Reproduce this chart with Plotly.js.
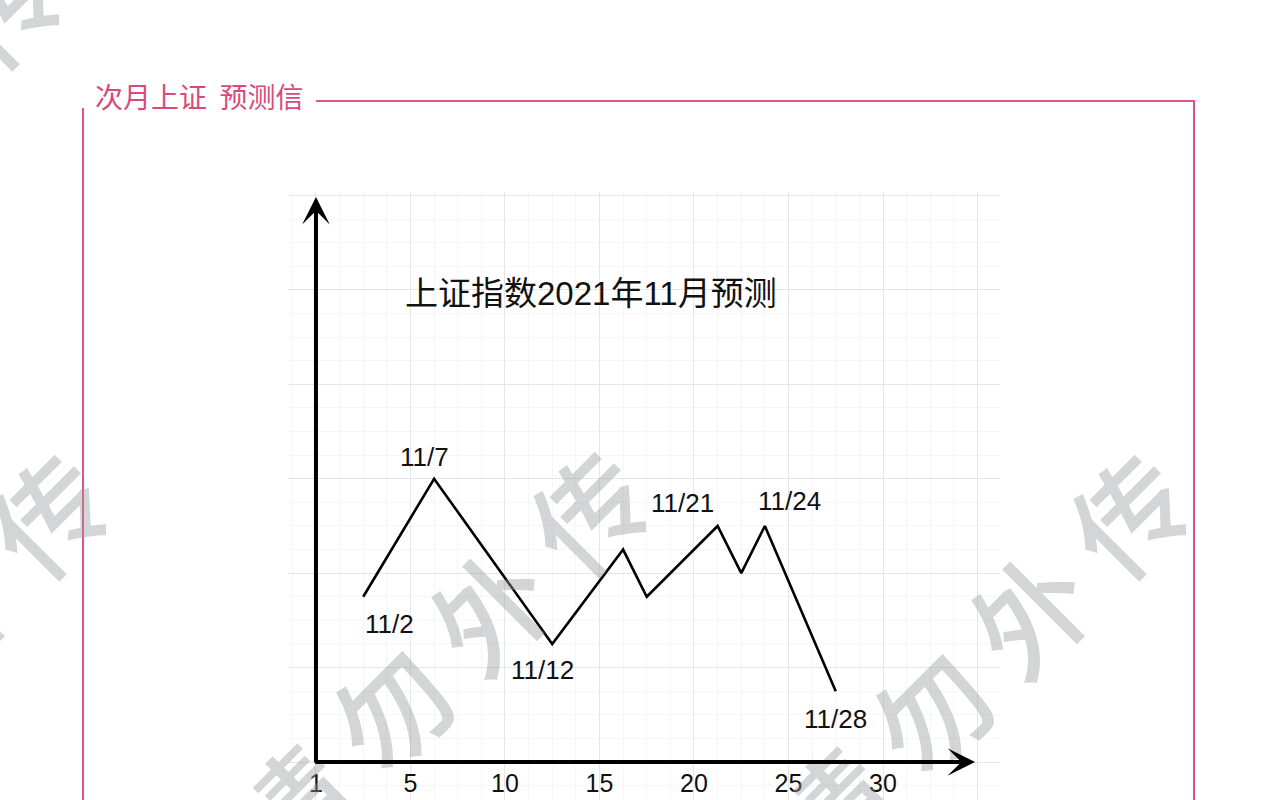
<!DOCTYPE html>
<html>
<head>
<meta charset="utf-8">
<script src="https://cdn.plot.ly/plotly-3.0.1.min.js"></script>
<style>html,body{margin:0;padding:0;background:#fff;}#chart{width:1281px;height:800px;}</style>
</head>
<body>
<div id="chart"></div>
<script>
// ---- data ----
const days = [2.5, 6.25, 12.5, 16.25, 17.5, 21.25, 22.5, 23.75, 27.5];
const level = [7, 12, 5, 9, 7, 10, 8, 10, 3];
const pointLabels = ["11/2", "11/7", "11/12", "", "", "11/21", "", "11/24", "11/28"];
const tickVals = [0, 5, 10, 15, 20, 25, 30, 35];
const tickText = ["1", "5", "10", "15", "20", "25", "30", ""];
const chartTitle = "上证指数2021年11月预测";
const boxTitle = "次月上证\u00a0\u00a0预测信";
const watermark = "请 勿 外 传";

// ---- styling / placement ----
const W = 1281, H = 800;
const px = v => v / W, py = v => 1 - v / H;
const pink = '#e0508a';
const labelFont = {family: 'Liberation Sans, Arial, sans-serif', size: 26, color: '#111'};
const labelShift = {
  "11/2": [26, -27], "11/7": [-10, 22], "11/12": [-10, -26],
  "11/21": [-35, 23], "11/24": [25, 25], "11/28": [0, -28]
};

const trace = {
  x: days, y: level, type: 'scatter', mode: 'lines',
  line: {color: '#000', width: 2.6}, hoverinfo: 'skip'
};

const annotations = [];
// watermark
[[437, 657], [977, 660], [-103, 660], [-150, 150]].forEach(c => {
  annotations.push({
    xref: 'paper', yref: 'paper', x: px(c[0]), y: py(c[1]),
    xanchor: 'center', yanchor: 'middle', showarrow: false,
    text: watermark, textangle: -45,
    font: {family: 'Noto Sans CJK SC', size: 114, weight: 500, color: 'rgba(150,155,160,0.42)'}
  });
});
// axes arrows
annotations.push({
  xref: 'x', yref: 'y', axref: 'x', ayref: 'y',
  x: 34.87, y: 0, ax: -0.12, ay: 0, text: '', showarrow: true,
  arrowhead: 3, arrowsize: 1.15, arrowwidth: 4, arrowcolor: '#000'
});
annotations.push({
  xref: 'x', yref: 'y', axref: 'x', ayref: 'y',
  x: 0, y: 23.94, ax: 0, ay: -0.09, text: '', showarrow: true,
  arrowhead: 3, arrowsize: 1.15, arrowwidth: 4, arrowcolor: '#000'
});
// point labels
pointLabels.forEach((t, i) => {
  if (!t) return;
  const s = labelShift[t] || [0, 0];
  annotations.push({
    xref: 'x', yref: 'y', x: days[i], y: level[i], text: t, showarrow: false,
    xanchor: 'center', yanchor: 'middle', xshift: s[0], yshift: s[1], font: labelFont
  });
});
// chart title
annotations.push({
  xref: 'x', yref: 'y', x: 4.6, y: 19.87, xanchor: 'left', yanchor: 'middle',
  showarrow: false, text: chartTitle,
  font: {family: 'Liberation Sans, Noto Sans CJK SC, sans-serif', size: 33, color: '#111'}
});
// box title
annotations.push({
  xref: 'paper', yref: 'paper', x: px(93), y: py(96), xanchor: 'left', yanchor: 'middle',
  showarrow: false, text: boxTitle,
  font: {family: 'Noto Sans CJK SC', size: 28, color: '#d94a7b'}
});

const shapes = [
  {type: 'line', xref: 'paper', yref: 'paper', x0: px(316), x1: px(1195), y0: py(101), y1: py(101), line: {color: pink, width: 2}},
  {type: 'line', xref: 'paper', yref: 'paper', x0: px(1194), x1: px(1194), y0: py(101), y1: py(800), line: {color: pink, width: 2}},
  {type: 'line', xref: 'paper', yref: 'paper', x0: px(83), x1: px(83), y0: py(108), y1: py(800), line: {color: pink, width: 2}}
];

const layout = {
  width: W, height: H, margin: {l: 0, r: 0, t: 0, b: 0},
  paper_bgcolor: '#fff', plot_bgcolor: '#fff', showlegend: false,
  xaxis: {
    domain: [px(288), px(1000)], range: [-1.48, 36.19],
    tickmode: 'array', tickvals: tickVals, ticktext: tickText,
    showgrid: true, gridcolor: '#e4e7e9', gridwidth: 1,
    minor: {tickmode: 'linear', tick0: 0, dtick: 1.25, showgrid: true, gridcolor: '#f5f6f7'},
    zeroline: false, showline: false, ticks: '', ticklabelstandoff: 4,
    anchor: 'free', position: 38 / 800,
    tickfont: {family: 'Liberation Sans, Arial, sans-serif', size: 25, color: '#111'},
    fixedrange: true
  },
  yaxis: {
    domain: [0, 608 / 800], range: [-1.61, 24.15],
    tickmode: 'linear', tick0: 0, dtick: 4,
    showgrid: true, gridcolor: '#e4e7e9', gridwidth: 1,
    minor: {tickmode: 'linear', tick0: 0, dtick: 1, showgrid: true, gridcolor: '#f5f6f7'},
    zeroline: false, showline: false, showticklabels: false, ticks: '',
    fixedrange: true
  },
  annotations: annotations,
  shapes: shapes
};

Plotly.newPlot('chart', [trace], layout, {staticPlot: true, displayModeBar: false});
</script>
</body>
</html>
